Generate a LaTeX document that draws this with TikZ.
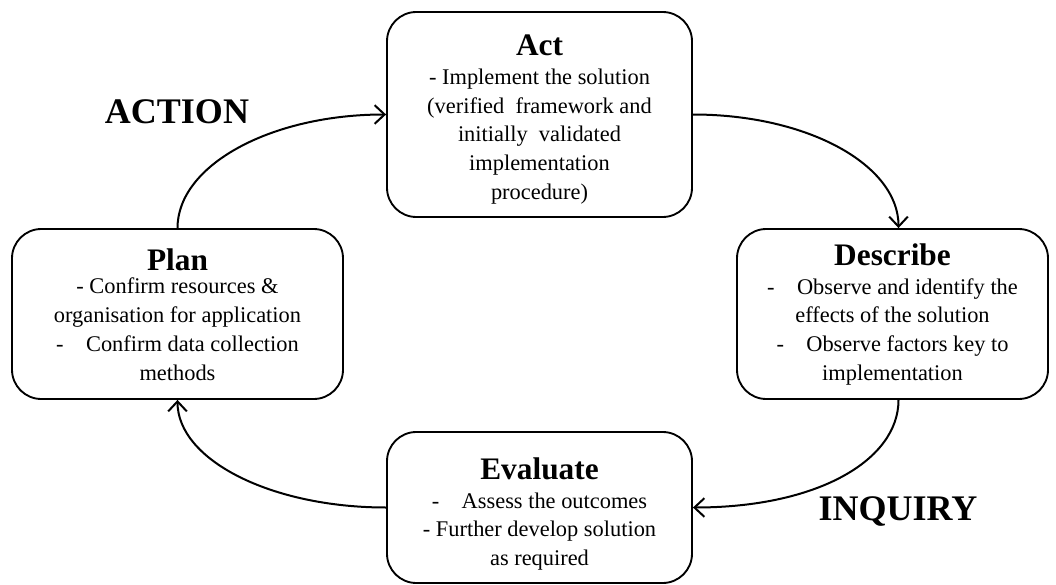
\documentclass[tikz,border=0pt]{standalone}
\usepackage{fontspec}
\setmainfont{Liberation Serif}
\usetikzlibrary{arrows.meta}
\begin{document}
\begin{tikzpicture}[x=0.75pt,y=-0.75pt,
  stagebox/.style={draw, line width=1.4pt, rounded corners=22pt, align=center,
    inner sep=0pt, font=\fontsize{16.8}{21.6}\selectfont},
  flow/.style={line width=1.5pt, -{Straight Barb[length=7.5pt,width=14pt,line width=1.5pt]}},
  phase/.style={font=\fontsize{27}{30}\selectfont\bfseries}]
% stage heading; the optional argument lowers the whole text block a little
\newcommand{\stagehead}[2][17pt]{\rule{0pt}{#1}{\fontsize{23.5}{26}\selectfont\bfseries #2}}
\useasboundingbox (0,0) rectangle (1056,585);

% the four stages of the cycle
\node[stagebox, minimum width=228.75pt, minimum height=153.75pt] (act) at (539.5,114.5)
  {\stagehead[23pt]{Act}\\
   - Implement the solution\\
   (verified\ \ framework and\\
   initially\ \ validated\\
   implementation\\
   procedure)};
\node[stagebox, minimum width=233.25pt, minimum height=127.5pt] (describe) at (892.5,314)
  {\stagehead{Describe}\\
   -\quad Observe and identify the\\
   effects of the solution\\
   -\quad Observe factors key to\\
   implementation};
\node[stagebox, minimum width=248.25pt, minimum height=127.5pt] (plan) at (177.5,314)
  {\stagehead{Plan}\\[-4pt]
   - Confirm resources \&\\
   organisation for application\\
   -\quad Confirm data collection\\
   methods};
\node[stagebox, minimum width=228.75pt, minimum height=113.25pt] (evaluate) at (539.5,507.5)
  {\stagehead[26pt]{Evaluate}\\
   -\quad Assess the outcomes\\
   - Further develop solution\\
   as required};

% phase labels
\node[phase] (action) at (177,112) {ACTION};
\node[phase] (inquiry) at (898,511) {INQUIRY};

% curved arrows linking the stages
\draw[flow] (plan.north) .. controls +(0,-63) and +(-115,0) .. (act.west);
\draw[flow] (act.east) .. controls +(115,0) and +(0,-63) .. ([xshift=4.5pt]describe.north);
\draw[flow] ([xshift=4.5pt]describe.south) .. controls +(0,60) and +(125,0) .. (evaluate.east);
\draw[flow] (evaluate.west) .. controls +(-115,0) and +(0,60) .. (plan.south);
\end{tikzpicture}
\end{document}
